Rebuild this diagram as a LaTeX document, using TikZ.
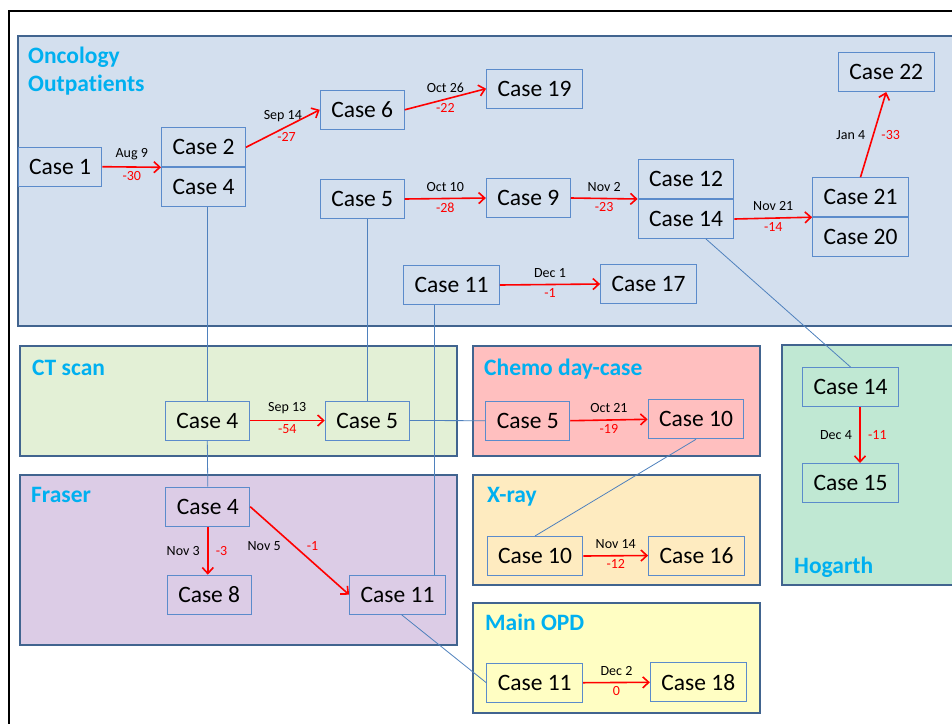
\documentclass[tikz,border=0pt]{standalone}
\usepackage{fontspec}
\setmainfont{Carlito}[Ligatures=NoCommon]
\usetikzlibrary{positioning,arrows.meta}
\definecolor{wardline}{HTML}{41648F}
\definecolor{titleblue}{HTML}{00B0F0}
\definecolor{caseline}{HTML}{5B8BCB}
\definecolor{linkblue}{HTML}{4F81BD}
\definecolor{oncfill}{HTML}{D3DFEE}
\definecolor{ctfill}{HTML}{E3F0D6}
\definecolor{fraserfill}{HTML}{DCCCE6}
\definecolor{chemofill}{HTML}{FFBFBF}
\definecolor{xrayfill}{HTML}{FEEBC0}
\definecolor{opdfill}{HTML}{FFFEC3}
\definecolor{hogfill}{HTML}{C0E8D3}

\begin{document}
\begin{tikzpicture}[x=1pt,y=-1pt,
  wardbox/.style={draw=wardline, line width=2.5pt},
  wardtitle/.style={anchor=base west, text=titleblue, inner sep=0pt,
    font=\fontsize{23.5}{28}\selectfont\bfseries},
  casebox/.style={draw=caseline, line width=1pt, minimum height=39pt,
    inner xsep=11pt, font=\fontsize{23.5}{28}\selectfont},
  flowarrow/.style={draw=red, line width=1.6pt,
    -{Straight Barb[length=6pt,width=11pt]}},
  datelabel/.style={font=\fontsize{14}{16}\selectfont, text=black},
  delaylabel/.style={font=\fontsize{14}{16}\selectfont, text=red},
  linkline/.style={draw=linkblue, line width=0.8pt}]
\clip (0,0) rectangle (952,723);
% outer frame
\draw[line width=2.5pt] (9,730) -- (9,11) -- (960,11);
% wards
\draw[wardbox, fill=oncfill] (18,36) rectangle (975,326);
\draw[wardbox, fill=ctfill] (20,346) rectangle (457,456);
\draw[wardbox, fill=fraserfill] (20,475) rectangle (457,645);
\draw[wardbox, fill=chemofill] (473,346) rectangle (760,456);
\draw[wardbox, fill=xrayfill] (473,475) rectangle (760,585);
\draw[wardbox, fill=opdfill] (473,603) rectangle (760,713);
\draw[wardbox, fill=hogfill] (782,345) rectangle (975,585);
\node[wardtitle] (tonc) at (28,63) {Oncology};
\node[wardtitle] (tout) at (28,91) {Outpatients};
\node[wardtitle] (tct) at (32,375) {CT scan};
\node[wardtitle] (tfr) at (31,502) {Fraser};
\node[wardtitle] (tch) at (484,375) {Chemo day-case};
\node[wardtitle] (txr) at (487,502) {X-ray};
\node[wardtitle] (topd) at (485,630) {Main OPD};
\node[wardtitle] (thog) at (794,573) {Hogarth};
% oncology outpatients
\node[casebox] (c1) at (60,166.7) {Case 1};
\node[casebox] (c2) at (203.5,147.3) {Case 2};
\node[casebox, below=0pt of c2] (onc4) {Case 4};
\node[casebox] (c6) at (362.2,109.8) {Case 6};
\node[casebox] (c19) at (534.5,88.7) {Case 19};
\node[casebox] (onc5) at (362.2,199) {Case 5};
\node[casebox] (c9) at (528.3,198) {Case 9};
\node[casebox] (c12) at (686,179) {Case 12};
\node[casebox, below=0pt of c12] (onc14) {Case 14};
\node[casebox] (c21) at (860.5,197.2) {Case 21};
\node[casebox, below=0pt of c21] (c20) {Case 20};
\node[casebox] (c22) at (886.2,72) {Case 22};
\node[casebox] (onc11) at (451.5,285) {Case 11};
\node[casebox] (c17) at (648.5,284) {Case 17};
% ct scan
\node[casebox] (ct4) at (207.3,420.5) {Case 4};
\node[casebox] (ct5) at (367.2,420.5) {Case 5};
% chemo day-case
\node[casebox] (ch5) at (527.8,420.7) {Case 5};
\node[casebox] (ch10) at (696,419.3) {Case 10};
% fraser
\node[casebox] (fr4) at (207.8,506.7) {Case 4};
\node[casebox] (c8) at (209.2,594.7) {Case 8};
\node[casebox] (fr11) at (397.5,594.7) {Case 11};
% x-ray
\node[casebox] (xr10) at (535,556) {Case 10};
\node[casebox] (c16) at (696.5,555.5) {Case 16};
% main opd
\node[casebox] (opd11) at (534.7,682.7) {Case 11};
\node[casebox] (c18) at (698.3,682.3) {Case 18};
% hogarth
\node[casebox] (hog14) at (850.5,387) {Case 14};
\node[casebox] (c15) at (850.5,483) {Case 15};
% same case in another ward
\draw[linkline] (ct4.north) -- (ct4.north |- onc4.south);
\draw[linkline] (ct4.south) -- (fr4.north);
\draw[linkline] (ct5.north) -- (ct5.north |- onc5.south);
\draw[linkline] (ct5.east) -- (ch5.west);
\draw[linkline] ([xshift=-17.5pt]onc11.south) -- ([xshift=-17.5pt]onc11.south |- fr11.north);
\draw[linkline] ([xshift=20pt]onc14.south) -- (hog14.north);
\draw[linkline] (ch10.south) -- (xr10.north);
\draw[linkline] ([xshift=4pt]fr11.south) -- (opd11.west);
% referrals
\draw[flowarrow] (c1.east) -- (c2.south west)
  node[midway, above=3pt, datelabel] {Aug 9} node[midway, below, delaylabel] {-30};
\draw[flowarrow] (c2.east) -- (c6.west)
  node[midway, above=3pt, datelabel] {Sep 14} node[pos=0.55, below=2pt, delaylabel] {-27};
\draw[flowarrow] (c6.east) -- (c19.west)
  node[midway, above=3pt, datelabel] {Oct 26} node[midway, below, delaylabel] {-22};
\draw[flowarrow] (onc5.east) -- (c9.west)
  node[midway, above=3pt, datelabel] {Oct 10} node[midway, below, delaylabel] {-28};
\draw[flowarrow] (c9.east) -- (c12.south west)
  node[midway, above=3pt, datelabel] {Nov 2} node[midway, below, delaylabel] {-23};
\draw[flowarrow] (onc14.east) -- (c21.south west)
  node[midway, above=3pt, datelabel] {Nov 21} node[midway, below, delaylabel] {-14};
\draw[flowarrow] (c21.north) -- (c22.south)
  node[midway, left=4pt, datelabel] {Jan 4} node[midway, right=4pt, delaylabel] {-33};
\draw[flowarrow] (onc11.east) -- (c17.west)
  node[midway, above=3pt, datelabel] {Dec 1} node[midway, below, delaylabel] {-1};
\draw[flowarrow] (ct4.east) -- (ct5.west)
  node[midway, above=3pt, datelabel] {Sep 13} node[midway, below, delaylabel] {-54};
\draw[flowarrow] (ch5.east) -- (ch10.west)
  node[midway, above=3pt, datelabel] {Oct 21} node[midway, below, delaylabel] {-19};
\draw[flowarrow] (fr4.south) -- (fr4.south |- c8.north)
  node[midway, left=4pt, datelabel] {Nov 3} node[midway, right=4pt, delaylabel] {-3};
\draw[flowarrow] (fr4.east) -- (fr11.west)
  node[pos=0.45, left=10pt, datelabel] {Nov 5} node[pos=0.45, right=8pt, delaylabel] {-1};
\draw[flowarrow] (xr10.east) -- (c16.west)
  node[midway, above=3pt, datelabel] {Nov 14} node[midway, below, delaylabel] {-12};
\draw[flowarrow] (opd11.east) -- (c18.west)
  node[midway, above=3pt, datelabel] {Dec 2} node[midway, below, delaylabel] {0};
\draw[flowarrow] ([xshift=9.5pt]hog14.south) -- ([xshift=9.5pt]c15.north)
  node[midway, left=4pt, datelabel] {Dec 4} node[midway, right=4pt, delaylabel] {-11};
\end{tikzpicture}
\end{document}
